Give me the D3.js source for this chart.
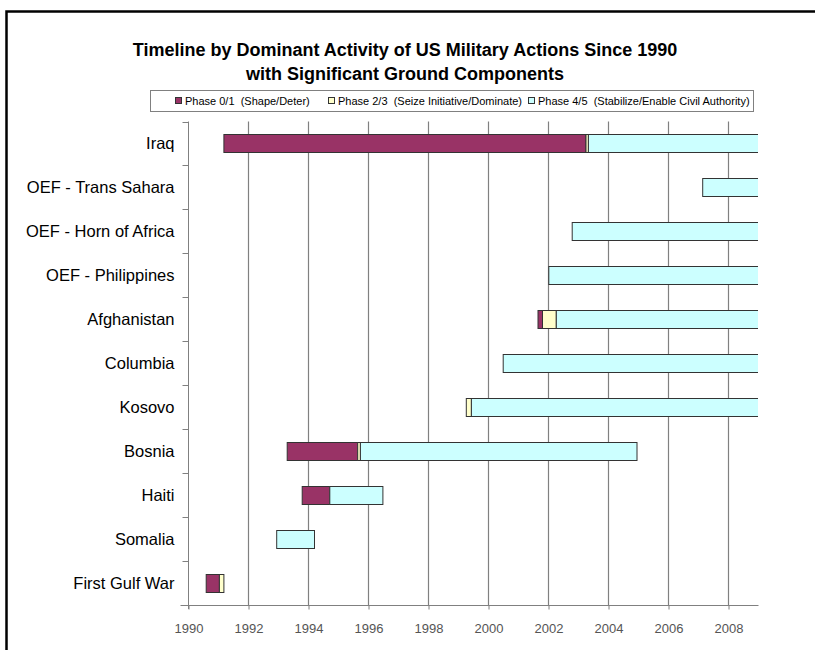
<!DOCTYPE html>
<html>
<head>
<meta charset="utf-8">
<script src="https://cdnjs.cloudflare.com/ajax/libs/d3/7.8.5/d3.min.js"></script>
<style>
  body { margin: 0; background: #fff; }
  text { font-family: "Liberation Sans", Arial, sans-serif; }
</style>
</head>
<body>
<div id="chart"></div>
<script>
// missions, top to bottom
var missions = ["Iraq", "OEF - Trans Sahara", "OEF - Horn of Africa", "OEF - Philippines",
  "Afghanistan", "Columbia", "Kosovo", "Bosnia", "Haiti", "Somalia", "First Gulf War"];
// year each mission starts
var startYear = [1991.18, 2007.14, 2002.79, 2002.01, 2001.65, 2000.49, 1999.26, 1993.29, 1993.79, 1992.94, 1990.59];
// years spent in each phase
var phase01 = [12.07, 0, 0, 0, 0.15, 0, 0, 2.35, 0.92, 0, 0.44];
var phase23 = [0.08, 0, 0, 0, 0.46, 0, 0.17, 0.09, 0, 0, 0.15];
var phase45 = [5.67, 1.86, 6.21, 6.99, 6.74, 8.51, 9.57, 9.22, 1.77, 1.26, 0];

var phaseKeys = ["p01", "p23", "p45"];
var phaseNames = ["Phase 0/1  (Shape/Deter)", "Phase 2/3  (Seize Initiative/Dominate)",
  "Phase 4/5  (Stabilize/Enable Civil Authority)"];
var yearTicks = [1990, 1992, 1994, 1996, 1998, 2000, 2002, 2004, 2006, 2008];

var width = 815, height = 650;

var svg = d3.select("#chart").append("svg")
  .attr("width", width)
  .attr("height", height);

// frame (left + top only)
svg.append("path")
  .attr("d", "M6.5,650V11.5H815")
  .attr("fill", "none")
  .attr("stroke", "#000")
  .attr("stroke-width", 2.5);

// title
svg.append("text")
  .attr("x", 405).attr("y", 55.5)
  .attr("text-anchor", "middle")
  .style("font-size", "18px").style("font-weight", "bold")
  .text("Timeline by Dominant Activity of US Military Actions Since 1990");
svg.append("text")
  .attr("x", 405).attr("y", 79.5)
  .attr("text-anchor", "middle")
  .style("font-size", "18px").style("font-weight", "bold")
  .text("with Significant Ground Components");

var x = d3.scaleLinear().domain([1990, 2009]).range([188, 758]);
var y = d3.scaleBand().domain(missions).range([121.5, 605]);
var color = d3.scaleOrdinal().domain(phaseKeys).range(["#993366", "#FFFFCC", "#CCFFFF"]);

var rows = missions.map(function(m, i) {
  return { name: m, start: startYear[i], p01: phase01[i], p23: phase23[i], p45: phase45[i] };
});
var stacked = d3.stack().keys(phaseKeys)(rows);

// vertical gridlines
svg.append("g")
  .selectAll("line")
  .data(yearTicks.filter(function(t) { return t > 1990; }))
  .enter().append("line")
  .attr("x1", function(d) { return Math.round(x(d)) + 0.5; })
  .attr("x2", function(d) { return Math.round(x(d)) + 0.5; })
  .attr("y1", 121.5).attr("y2", 605)
  .attr("stroke", "#808080")
  .attr("stroke-width", 1.2);

// x axis
var xAxis = svg.append("g")
  .attr("transform", "translate(0.5,605.5)")
  .call(d3.axisBottom(x).tickValues(yearTicks).tickFormat(d3.format("d")).tickSize(4).tickPadding(14));
xAxis.select(".domain").attr("stroke", "#808080").attr("d", "M" + (x(1990) - 8) + ",0H" + x(2009));
xAxis.selectAll(".tick line").attr("stroke", "#808080");
xAxis.selectAll(".tick text")
  .style("font-size", "13px")
  .style("font-family", "'Liberation Sans', Arial, sans-serif")
  .attr("fill", "#555");

// y axis, ticks between categories
var yAxis = svg.append("g").attr("transform", "translate(188.5,0)");
yAxis.append("line")
  .attr("x1", 0).attr("x2", 0).attr("y1", 121.5).attr("y2", 609)
  .attr("stroke", "#808080");
yAxis.selectAll(".sep")
  .data(missions)
  .enter().append("line")
  .attr("class", "sep")
  .attr("x1", -6).attr("x2", 0)
  .attr("y1", function(d) { return Math.round(y(d)) + 0.5; })
  .attr("y2", function(d) { return Math.round(y(d)) + 0.5; })
  .attr("stroke", "#808080");
yAxis.selectAll(".lbl")
  .data(missions)
  .enter().append("text")
  .attr("class", "lbl")
  .attr("x", -14)
  .attr("y", function(d) { return y(d) + y.bandwidth() / 2; })
  .attr("dy", "0.35em")
  .attr("text-anchor", "end")
  .style("font-size", "16.5px")
  .text(function(d) { return d; });

// bars
svg.append("clipPath").attr("id", "plot")
  .append("rect")
  .attr("x", x(1990)).attr("y", 100)
  .attr("width", x(2009) - x(1990)).attr("height", 520);

var barH = 18;
svg.append("g")
  .attr("clip-path", "url(#plot)")
  .selectAll("g")
  .data(stacked)
  .enter().append("g")
  .attr("fill", function(d) { return color(d.key); })
  .selectAll("rect")
  .data(function(d) { return d.filter(function(s) { return s[1] - s[0] > 0; }); })
  .enter().append("rect")
  .attr("x", function(d) { return x(d.data.start + d[0]) + 0.5; })
  .attr("width", function(d) { return x(d.data.start + d[1]) - x(d.data.start + d[0]); })
  .attr("y", function(d) { return Math.round(y(d.data.name) + (y.bandwidth() - barH) / 2) + 0.5; })
  .attr("height", barH)
  .attr("stroke", "#333")
  .attr("stroke-width", 1);

// legend
var legend = svg.append("g");
legend.append("rect")
  .attr("x", 150.5).attr("y", 90.5)
  .attr("width", 603).attr("height", 21)
  .attr("fill", "#fff")
  .attr("stroke", "#808080");
var legendX = [175, 328, 528];
var item = legend.selectAll(".item")
  .data(phaseKeys)
  .enter().append("g")
  .attr("class", "item")
  .attr("transform", function(d, i) { return "translate(" + legendX[i] + ",0)"; });
item.append("rect")
  .attr("x", 0.5).attr("y", 97.5)
  .attr("width", 6).attr("height", 6)
  .attr("fill", function(d) { return color(d); })
  .attr("stroke", "#333");
item.append("text")
  .attr("x", 10).attr("y", 105)
  .style("font-size", "11px")
  .style("white-space", "pre")
  .text(function(d, i) { return phaseNames[i]; });
</script>
</body>
</html>
